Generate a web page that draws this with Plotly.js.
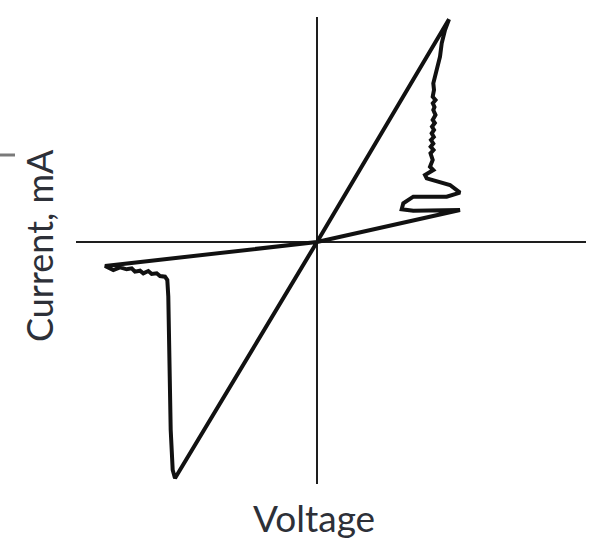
<!DOCTYPE html>
<html>
<head>
<meta charset="utf-8">
<script src="https://cdn.plot.ly/plotly-3.0.1.min.js"></script>
<style>html,body{margin:0;padding:0;background:#fff;}#chart{width:592px;height:539px;}</style>
</head>
<body>
<div id="chart"></div>
<script>
// I-V hysteresis loop (arbitrary units: voltage, current in mA)
const voltage = [
  0, 1.32, 1.28, 1.247, 1.23, 1.21, 1.197, 1.18, 1.163, 1.17, 1.157, 1.185, 1.158, 1.175, 1.163, 1.185,
  1.157, 1.178, 1.15, 1.17, 1.147, 1.168, 1.14, 1.163, 1.137, 1.165, 1.135, 1.157, 1.13, 1.163,
  1.08, 1.097, 1.213, 1.33, 1.43, 1.297, 0.963, 0.863, 0.847, 0.963, 1.43, 0,
  -2.12, -2.07, -2.037, -1.97, -1.903, -1.853, -1.82, -1.77, -1.737, -1.687, -1.653, -1.603,
  -1.57, -1.52, -1.497, -1.487, -1.477, -1.463, -1.443, -1.42, 0
];
const current = [
  0, 2.227, 2.12, 1.987, 1.853, 1.78, 1.72, 1.65, 1.587, 1.52, 1.453, 1.42, 1.387, 1.35, 1.32, 1.27,
  1.22, 1.19, 1.153, 1.12, 1.087, 1.05, 1.02, 0.985, 0.953, 0.92, 0.887, 0.82, 0.753, 0.72,
  0.67, 0.637, 0.603, 0.57, 0.493, 0.453, 0.453, 0.387, 0.327, 0.313, 0.32, 0,
  -0.24, -0.263, -0.28, -0.253, -0.273, -0.263, -0.297, -0.287, -0.313, -0.29, -0.32, -0.313,
  -0.34, -0.347, -0.38, -0.547, -1.213, -1.88, -2.28, -2.363, 0
];
const xTitle = "Voltage";
const yTitle = "Current, mA";

const trace = {
  x: voltage, y: current, type: "scatter", mode: "lines",
  line: {color: "#111111", width: 4, shape: "linear"},
  hoverinfo: "skip", showlegend: false
};

const axisCommon = {
  showgrid: false, showticklabels: false, ticks: "", showline: false,
  zeroline: true, zerolinecolor: "#1e1e1e", zerolinewidth: 2, fixedrange: true
};

const layout = {
  width: 592, height: 539,
  margin: {l: 76, r: 6, t: 17, b: 55},
  paper_bgcolor: "#ffffff", plot_bgcolor: "#ffffff",
  xaxis: Object.assign({range: [-2.41, 2.69]}, axisCommon),
  yaxis: Object.assign({range: [-2.42, 2.25]}, axisCommon),
  font: {family: "Lato, 'Open Sans', sans-serif", color: "#2d3038"},
  annotations: [
    {text: xTitle, xref: "paper", yref: "paper", x: (314 - 76) / 510, y: (484 - 517) / 467,
     xanchor: "center", yanchor: "middle", showarrow: false,
     font: {size: 37, color: "#2d3038", family: "Lato, 'Open Sans', sans-serif"}},
    {text: yTitle, xref: "paper", yref: "paper", x: (39 - 76) / 510, y: (484 - 246) / 467,
     xanchor: "center", yanchor: "middle", showarrow: false, textangle: -90,
     font: {size: 36, color: "#2d3038", family: "Lato, 'Open Sans', sans-serif"}}
  ],
  shapes: [
    {type: "line", xref: "paper", yref: "paper", x0: (0 - 76) / 510, x1: (15 - 76) / 510,
     y0: (484 - 155) / 467, y1: (484 - 155) / 467, line: {color: "#7a7a7a", width: 3}}
  ]
};

Plotly.newPlot("chart", [trace], layout, {staticPlot: true, displayModeBar: false});
</script>
</body>
</html>
